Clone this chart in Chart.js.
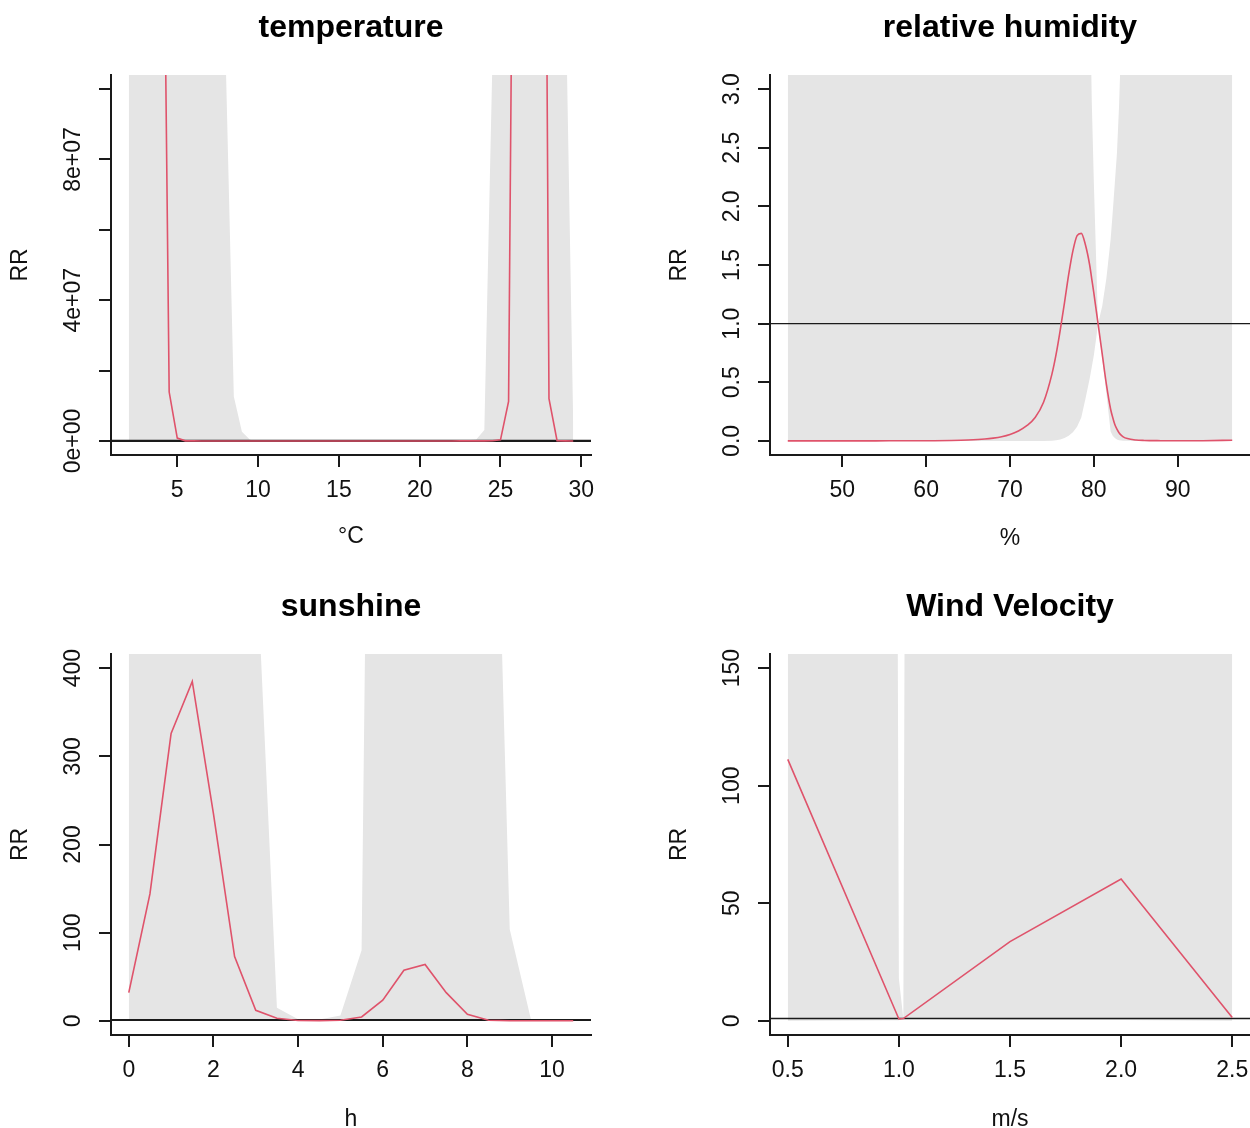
<!DOCTYPE html>
<html>
<head>
<meta charset="utf-8">
<script src="https://cdn.jsdelivr.net/npm/chart.js@4.4.1/dist/chart.umd.min.js"></script>
<style>
html,body{margin:0;padding:0;background:#fff;overflow:hidden;width:1250px;height:1128px}
canvas{position:absolute;display:block}
</style>
</head>
<body>
<canvas id="c1" width="625" height="564" style="left:0;top:0;width:625px;height:564px"></canvas>
<canvas id="c2" width="625" height="564" style="left:625px;top:0;width:625px;height:564px"></canvas>
<canvas id="c3" width="625" height="564" style="left:0;top:564px;width:625px;height:564px"></canvas>
<canvas id="c4" width="625" height="564" style="left:625px;top:564px;width:625px;height:564px"></canvas>
<script>
// ---------------- DATA ----------------
// temperature (°C)
const tempX = [2.0,2.5,3.0,3.5,4.0,4.5,5.0,5.5,6.0,6.5,7.0,7.5,8.0,8.5,9.0,9.5,10.0,10.5,11.0,11.5,12.0,12.5,13.0,13.5,14.0,14.5,15.0,15.5,16.0,16.5,17.0,17.5,18.0,18.5,19.0,19.5,20.0,20.5,21.0,21.5,22.0,22.5,23.0,23.5,24.0,24.5,25.0,25.5,26.0,26.5,27.0,27.5,28.0,28.5,29.0,29.5];
const tempFit = [6.0e9,3.5e9,1.8e9,8.0e8,2.28e8,1.39e7,8.0e5,2.0e4,1500,180,35,9,3.5,1.8,1.2,1.0,0.9,0.9,0.85,0.85,0.9,0.95,1.0,1.0,1.0,1.0,1.0,1.0,1.05,1.1,1.2,1.35,1.6,2.0,2.8,4.2,7,13,28,65,160,420,1100,3000,1.2e4,6.0e4,3.0e5,1.12e7,3.0e8,1.6e9,1.9e9,3.95e8,1.2e7,5.0e4,800,60];
const tempLow = [0.02,0.03,0.05,0.08,0.1,0.15,0.2,0.25,0.3,0.35,0.4,0.45,0.5,0.55,0.6,0.65,0.7,0.72,0.74,0.76,0.78,0.8,0.82,0.84,0.86,0.88,0.9,0.92,0.94,0.96,0.98,0.98,0.97,0.95,0.92,0.9,0.85,0.8,0.75,0.7,0.65,0.6,0.5,0.4,0.3,0.25,0.2,0.15,0.1,0.08,0.06,0.05,0.04,0.03,0.02,0.01];
const tempHigh = [5e10,3e10,1.5e10,8e9,4e9,2e9,1.2e9,7e8,4e8,2.5e8,1.8e8,1.3e8,1.08e8,1.26e7,2.6e6,3.0e5,2.0e4,3000,600,150,50,20,10,6,4,3,2.5,2.2,2.2,2.4,2.8,3.5,5,8,15,30,80,250,900,3500,1.5e4,6e4,2.0e5,4.0e5,3.1e6,1.08e8,6e8,2e9,6e9,1.2e10,1.5e10,1.2e10,6e9,1.5e9,1.35e8,5e6];
const tempXTicks = [5,10,15,20,25,30];
const tempYTicks = [0,2e7,4e7,6e7,8e7,1e8];
const tempYLabels = ['0e+00','','4e+07','','8e+07',''];
const tempYLim = [0,1e8];

// relative humidity (%)
const humX = [43.5,46,50,54,58,61,63,65,67,68,69,70,71,72,73,74,75,75.5,76,76.5,77,77.5,78,78.5,79,79.5,79.75,80,80.25,80.5,81,81.5,82,82.25,82.5,82.75,83,83.25,83.5,84,85,86,88,90,93,96.5];
const humFit = [0.0005,0.0005,0.0006,0.0008,0.0012,0.002,0.004,0.008,0.016,0.024,0.036,0.055,0.085,0.13,0.2,0.33,0.57,0.74,0.95,1.18,1.42,1.62,1.75,1.77,1.67,1.5,1.38,1.26,1.13,1.0,0.74,0.48,0.27,0.2,0.14,0.1,0.07,0.05,0.035,0.02,0.008,0.004,0.002,0.0015,0.002,0.006];
const humLow = [0.0001,0.0001,0.0001,0.0001,0.0001,0.0001,0.0001,0.0001,0.0001,0.0001,0.0001,0.0001,0.0001,0.0001,0.0001,0.0002,0.0015,0.005,0.012,0.025,0.045,0.075,0.12,0.2,0.36,0.53,0.63,0.73,0.86,1.0,0.7,0.4,0.08,0.045,0.025,0.012,0.006,0.003,0.0015,0.0005,0.0002,0.0002,0.0002,0.0002,0.0002,0.0002];
const humHigh = [2e4,2e4,1.5e4,1e4,6e3,4e3,3e3,2e3,1200,900,700,500,350,250,170,110,70,55,42,32,24,17,12,8,5.5,4.0,2.9,2.2,1.6,1.0,1.15,1.39,1.72,1.95,2.2,2.45,2.85,3.4,4.3,6.0,14,30,120,400,2000,1e4];
const humXTicks = [50,60,70,80,90];
const humYTicks = [0,0.5,1,1.5,2,2.5,3];
const humYLabels = ['0.0','0.5','1.0','1.5','2.0','2.5','3.0'];
const humYLim = [0,3];

// sunshine (h)
const sunX = [0,0.5,1,1.5,2,2.5,3,3.5,4,4.5,5,5.5,6,6.5,7,7.5,8,8.5,9,9.5,10,10.5];
const sunFit = [32,144,326,385,235,73,12,3,0.5,0.3,0.8,4.5,23.5,57.5,64,32,7.5,0.8,0.2,0.1,0.1,0.1];
const sunLow = [0.1,0.5,1,1.2,0.8,0.3,0.05,0.01,0.001,0.001,0.002,0.01,0.05,0.2,0.3,0.1,0.02,0.001,0.0005,0.0002,0.0001,0.0001];
const sunHigh = [9000,12000,15000,14000,9000,4000,543,15,2,1.5,6,80,2180,5000,6000,5000,3000,970,104,2,1.2,1.2];
const sunXTicks = [0,2,4,6,8,10];
const sunYTicks = [0,100,200,300,400];
const sunYLabels = ['0','100','200','300','400'];
const sunYLim = [0,400];

// wind velocity (m/s)
const windX = [0.5,1.0,1.02,1.5,2.0,2.5];
const windFit = [111.2,0.8,1.0,33.7,60.3,1.4];
const windLow = [0.05,0.3,1.0,0.4,0.35,0.01];
const windHigh = [2e5,18,1.0,1e5,1e5,1e5];
const windXTicks = [0.5,1.0,1.5,2.0,2.5];
const windYTicks = [0,50,100,150];
const windYLabels = ['0','50','100','150'];
const windYLim = [0,150];

// ---------------- RENDERING ----------------
const FONT = '"Liberation Sans", Arial, Helvetica, sans-serif';
const AXIS = '#1a1a1a';
const RED = '#DF536B';
const BAND = '#E5E5E5';

const yTickText = {
  id: 'yTickText',
  afterDraw(chart, args, opts) {
    const s = chart.scales.y, ctx = chart.ctx;
    ctx.save();
    ctx.font = '23px ' + FONT;
    ctx.fillStyle = '#111';
    ctx.textAlign = 'center';
    ctx.textBaseline = 'middle';
    s.ticks.forEach(t => {
      if (!t.label) return;
      const y = s.getPixelForValue(t.value);
      ctx.save();
      ctx.translate(s.right - opts.offset, y);
      ctx.rotate(-Math.PI / 2);
      ctx.fillText(t.label, 0, 0);
      ctx.restore();
    });
    ctx.restore();
  }
};

function ext(lo, hi) { const d = (hi - lo) * 0.04; return [lo - d, hi + d]; }

function makePanel(id, cfg) {
  const xs = cfg.x;
  const pts = arr => xs.map((x, i) => ({x: x, y: arr[i]}));
  const xr = ext(Math.min(...xs), Math.max(...xs));
  const yr = ext(cfg.ylim[0], cfg.ylim[1]);
  const gridOpts = {drawOnChartArea: false, drawTicks: true, tickLength: 12, tickWidth: 2, tickColor: AXIS, color: AXIS, lineWidth: 2};
  const borderOpts = {display: true, color: AXIS, width: 2};
  return new Chart(document.getElementById(id), {
    type: 'line',
    data: {
      datasets: [
        {label: 'low', data: pts(cfg.low), borderColor: 'rgba(0,0,0,0)', borderWidth: 0, pointRadius: 0, fill: false, order: 3, clip: 0, tension: 0},
        {label: 'high', data: pts(cfg.high), borderColor: 'rgba(0,0,0,0)', borderWidth: 0, pointRadius: 0, fill: '-1', backgroundColor: BAND, order: 2, clip: 0, tension: 0},
        {label: 'RR = 1', data: [{x: xr[0], y: 1}, {x: xr[1], y: 1}], borderColor: '#1a1a1a', borderWidth: cfg.refW, pointRadius: 0, fill: false, order: 1, clip: 0},
        {label: 'RR', data: pts(cfg.fit), borderColor: RED, borderWidth: 1.6, pointRadius: 0, fill: false, order: 0, clip: 0,
         cubicInterpolationMode: cfg.smooth ? 'monotone' : 'default', tension: 0}
      ]
    },
    options: {
      responsive: false,
      animation: false,
      devicePixelRatio: 1,
      events: [],
      layout: {padding: {left: 0, right: cfg.padRight, top: 0, bottom: 0}},
      plugins: {
        legend: {display: false},
        tooltip: {enabled: false},
        title: {display: true, text: cfg.title, fullSize: false, color: '#000',
                font: {family: FONT, size: 32, weight: 'bold', lineHeight: 1.2},
                padding: {top: cfg.titleTop, bottom: cfg.titleBottom}},
        yTickText: {offset: 37}
      },
      scales: {
        x: {
          type: 'linear', position: 'bottom', min: xr[0], max: xr[1],
          afterBuildTicks: s => { s.ticks = cfg.xTicks.map(v => ({value: v})); },
          afterFit: s => { s.height = cfg.xAxisH; s.paddingLeft = 0; s.paddingRight = 0; },
          grid: gridOpts, border: borderOpts,
          ticks: {color: '#111', font: {family: FONT, size: 23}, padding: 10, maxRotation: 0, minRotation: 0, autoSkip: false,
                  callback: v => cfg.xFmt(v)},
          title: {display: true, text: cfg.xTitle, color: '#111', font: {family: FONT, size: 23, lineHeight: 1},
                  padding: {top: 0, bottom: cfg.xTitleBottom}}
        },
        y: {
          type: 'linear', position: 'left', min: yr[0], max: yr[1],
          afterBuildTicks: s => { s.ticks = cfg.yTicks.map(v => ({value: v})); },
          afterFit: s => { s.width = cfg.yAxisW; s.paddingTop = 0; s.paddingBottom = 0; },
          grid: gridOpts, border: borderOpts,
          ticks: {display: false, callback: (v, i) => cfg.yLabels[i]},
          title: {display: true, text: 'RR', color: '#111', font: {family: FONT, size: 23, lineHeight: 1},
                  padding: {top: cfg.yTitleLeft, bottom: 0}}
        }
      }
    },
    plugins: [yTickText]
  });
}

makePanel('c1', {title: 'temperature', x: tempX, fit: tempFit, low: tempLow, high: tempHigh,
  xTicks: tempXTicks, yTicks: tempYTicks, yLabels: tempYLabels, ylim: tempYLim, xFmt: v => String(v),
  xTitle: '°C', padRight: 34, yAxisW: 111, xAxisH: 109, titleTop: 8.8, titleBottom: 27.8, xTitleBottom: 15.5, yTitleLeft: 9.5, smooth: false, refW: 2.2});
makePanel('c2', {title: 'relative humidity', x: humX, fit: humFit, low: humLow, high: humHigh,
  xTicks: humXTicks, yTicks: humYTicks, yLabels: humYLabels, ylim: humYLim, xFmt: v => String(v),
  xTitle: '%', padRight: 0, yAxisW: 145, xAxisH: 109, titleTop: 8.8, titleBottom: 27.8, xTitleBottom: 14, yTitleLeft: 43.5, smooth: true, refW: 1.4});
makePanel('c3', {title: 'sunshine', x: sunX, fit: sunFit, low: sunLow, high: sunHigh,
  xTicks: sunXTicks, yTicks: sunYTicks, yLabels: sunYLabels, ylim: sunYLim, xFmt: v => String(v),
  xTitle: 'h', padRight: 34, yAxisW: 111, xAxisH: 93, titleTop: 23.8, titleBottom: 27.8, xTitleBottom: -3, yTitleLeft: 9.5, smooth: false, refW: 2.2});
makePanel('c4', {title: 'Wind Velocity', x: windX, fit: windFit, low: windLow, high: windHigh,
  xTicks: windXTicks, yTicks: windYTicks, yLabels: windYLabels, ylim: windYLim, xFmt: v => v.toFixed(1),
  xTitle: 'm/s', padRight: 0, yAxisW: 145, xAxisH: 93, titleTop: 23.8, titleBottom: 27.8, xTitleBottom: -3, yTitleLeft: 43.5, smooth: false, refW: 1.4});
</script>
</body>
</html>
